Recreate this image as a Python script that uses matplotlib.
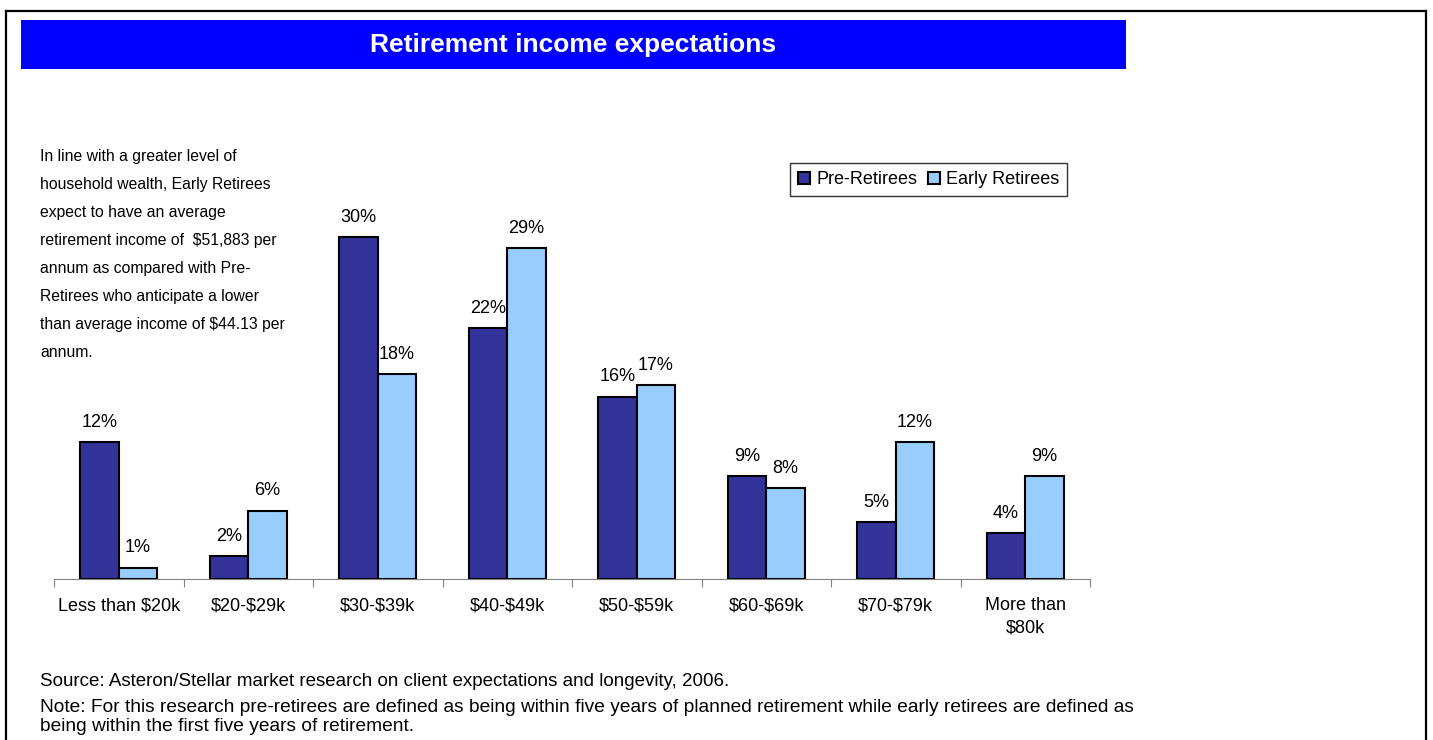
import numpy as np
import matplotlib
matplotlib.use("Agg")
import matplotlib.pyplot as plt
from matplotlib.patches import Rectangle
from matplotlib.lines import Line2D

plt.rcParams['font.family'] = ['Liberation Sans', 'DejaVu Sans']
plt.rcParams['text.parse_math'] = False  # dollar signs are plain text here

categories = ["Less than $20k", "$20-$29k", "$30-$39k", "$40-$49k",
              "$50-$59k", "$60-$69k", "$70-$79k", "More than\n$80k"]
pre_retirees = [12, 2, 30, 22, 16, 9, 5, 4]
early_retirees = [1, 6, 18, 29, 17, 8, 12, 9]

title = "Retirement income expectations"
side_note = ["In line with a greater level of",
             "household wealth, Early Retirees",
             "expect to have an average",
             "retirement income of  $51,883 per",
             "annum as compared with Pre-",
             "Retirees who anticipate a lower",
             "than average income of $44.13 per",
             "annum."]
source = "Source: Asteron/Stellar market research on client expectations and longevity, 2006."
note = ["Note: For this research pre-retirees are defined as being within five years of planned retirement while early retirees are defined as",
        "being within the first five years of retirement."]

W, H = 1433, 740
fig = plt.figure(figsize=(W / 100, H / 100), dpi=100)


def px(x, y):
    # pixel position (from top-left) -> figure fraction
    return x / W, 1 - y / H


# outer frame (open at the bottom)
for xs, ys in [((6, 6), (11, 745)), ((6, 1426), (11, 11)), ((1426, 1426), (11, 745))]:
    fig.add_artist(Line2D([x / W for x in xs], [1 - y / H for y in ys],
                          color='black', lw=1.6, transform=fig.transFigure))

# title banner
x0, y0 = px(21, 69)
fig.add_artist(Rectangle((x0, y0), (1126 - 21) / W, 49 / H, transform=fig.transFigure,
                         facecolor='#0000FF', edgecolor='none'))
fig.text(*px(573, 45), title, color='white', fontsize=19, fontweight='bold',
         ha='center', va='center')

# bar chart
ax = fig.add_axes([54 / W, (H - 579) / H, 1036 / W, 399 / H])
x = np.arange(len(categories))
w = 0.297
b1 = ax.bar(x - w / 2, pre_retirees, w, color='#333399', edgecolor='black', lw=1.5,
            label='Pre-Retirees')
b2 = ax.bar(x + w / 2, early_retirees, w, color='#99CCFF', edgecolor='black', lw=1.5,
            label='Early Retirees')
for bars, vals in [(b1, pre_retirees), (b2, early_retirees)]:
    for r, v in zip(bars, vals):
        ax.annotate(f"{v}%", (r.get_x() + r.get_width() / 2, v), xytext=(0, 8),
                    textcoords='offset points', ha='center', va='bottom', fontsize=13)

ax.set_xlim(-0.5, len(categories) - 0.5)
ax.set_ylim(0, 35)
for s in ['left', 'right', 'top']:
    ax.spines[s].set_visible(False)
ax.spines['bottom'].set_color('#808080')
ax.set_yticks([])
ax.set_xticks(np.arange(len(categories) + 1) - 0.5)
ax.set_xticklabels([])
ax.tick_params(axis='x', which='major', length=6, color='#808080')
ax.set_xticks(x, minor=True)
ax.set_xticklabels(categories, minor=True, fontsize=13, linespacing=1.45)
ax.tick_params(axis='x', which='minor', length=0, pad=13)

leg = fig.legend(handles=[b1, b2], loc='upper left', bbox_to_anchor=px(790, 163), ncol=2,
                 fontsize=13, frameon=True, fancybox=False, edgecolor='black',
                 handlelength=0.65, handleheight=0.65, handletextpad=0.35,
                 columnspacing=0.6, borderpad=0.45, borderaxespad=0)
leg.get_frame().set_linewidth(1.0)

# commentary on the left
for i, line in enumerate(side_note):
    fig.text(*px(40, 157 + i * 27.9), line, fontsize=11.3, ha='left', va='center')

fig.text(*px(40, 681), source, fontsize=13.5, ha='left', va='center')
for i, line in enumerate(note):
    fig.text(*px(40, 707 + i * 19.5), line, fontsize=13.75, ha='left', va='center')

fig.savefig("out.png", dpi=100, facecolor='white')
